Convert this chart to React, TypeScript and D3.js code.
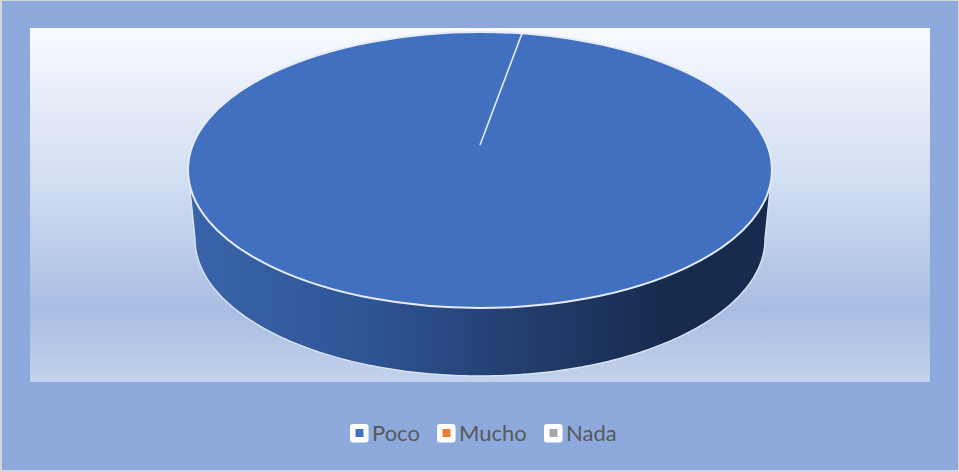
import React from "react";
import * as d3 from "d3";

// Survey answers and their series colours
const categories = ["Poco", "Mucho", "Nada"];
const values = [100, 0, 0];
const colors = ["#4170c0", "#ed7d31", "#a5a5a5"];
const legendBoxX = [350, 437, 544];

const W = 959;
const H = 472;
const top = { cx: 480, cy: 170, rx: 292, ry: 138 };
const base = { cx: 480, cy: 239, rx: 285, ry: 137 };
// Perspective moves the visual pie centre above the middle of the ellipse
const apexY = 145;
const rotation = Math.asin(42 / 292);

const pie = d3
  .pie<number>()
  .sort(null)
  .startAngle(rotation)
  .endAngle(rotation + 2 * Math.PI);
const slices = pie(values);
const unitArc = d3.arc<d3.PieArcDatum<number>>().innerRadius(0).outerRadius(1);

const rimPoint = (e: typeof top, a: number): [number, number] => [
  e.cx + e.rx * Math.sin(a),
  e.cy - e.ry * Math.cos(a),
];

// Visible wall: front half of the top rim, back along the front half of the base rim
const frontAngles = d3.range(0, 181).map((d) => Math.PI * 0.5 + (d / 180) * Math.PI);
const lineGen = d3.line<[number, number]>().curve(d3.curveLinear);
const topFront = frontAngles.map((a) => rimPoint(top, a));
const baseFront = frontAngles.map((a) => rimPoint(base, a));
const wallPath = lineGen([...topFront, ...baseFront.slice().reverse()]) + "Z";
const wallEdge = lineGen([topFront[0], ...baseFront, topFront[topFront.length - 1]]);

export default function App() {
  const sliceEdge = rimPoint(top, slices[0].startAngle);
  return (
    <svg
      width={W}
      height={H}
      style={{ position: "absolute", left: 0, top: 0, display: "block" }}
    >
      <defs>
        <linearGradient id="plotFill" x1="0" y1="0" x2="0" y2="1">
          <stop offset="0" stopColor="#f8faff" />
          <stop offset="0.45" stopColor="#d0dcf0" />
          <stop offset="0.8" stopColor="#a9bde3" />
          <stop offset="1" stopColor="#c3d2ec" />
        </linearGradient>
        <linearGradient id="wallFill" gradientUnits="userSpaceOnUse" x1={190} y1="0" x2={770} y2="0">
          <stop offset="0" stopColor="#3a64aa" />
          <stop offset="0.3" stopColor="#2f5596" />
          <stop offset="0.6" stopColor="#223b69" />
          <stop offset="0.82" stopColor="#172b4f" />
          <stop offset="1" stopColor="#172b4f" />
        </linearGradient>
      </defs>

      <rect width={W} height={H} fill="#d4d6da" />
      <rect x={2} y={1} width={956} height={469} fill="#8eaadc" />
      <rect x={30} y={28} width={900} height={354} fill="url(#plotFill)" />

      <path d={wallPath} fill="url(#wallFill)" />
      <path d={wallEdge ?? ""} fill="none" stroke="#dde5f3" strokeWidth={1.4} />

      <g transform={`translate(${top.cx},${top.cy}) scale(${top.rx},${top.ry})`}>
        {slices.map((s, i) => (
          <path
            key={categories[i]}
            d={unitArc(s) ?? ""}
            fill={colors[i]}
            stroke="none"
          />
        ))}
        <ellipse
          rx={1}
          ry={1}
          fill="none"
          stroke="#e6ecf7"
          strokeWidth={2}
          vectorEffect="non-scaling-stroke"
        />
      </g>
      <line
        x1={top.cx}
        y1={apexY}
        x2={sliceEdge[0]}
        y2={sliceEdge[1]}
        stroke="#e6ecf7"
        strokeWidth={1.6}
      />

      {categories.map((c, i) => (
        <g key={c}>
          <rect x={legendBoxX[i]} y={424} width={18.5} height={18.5} rx={3} fill="#ffffff" />
          <rect x={legendBoxX[i] + 5.5} y={429} width={8} height={8} fill={colors[i]} />
          <text
            x={legendBoxX[i] + 22}
            y={440.5}
            fontFamily="Lato, 'Open Sans', sans-serif"
            fontSize={22}
            fill="#595959"
          >
            {c}
          </text>
        </g>
      ))}
    </svg>
  );
}
